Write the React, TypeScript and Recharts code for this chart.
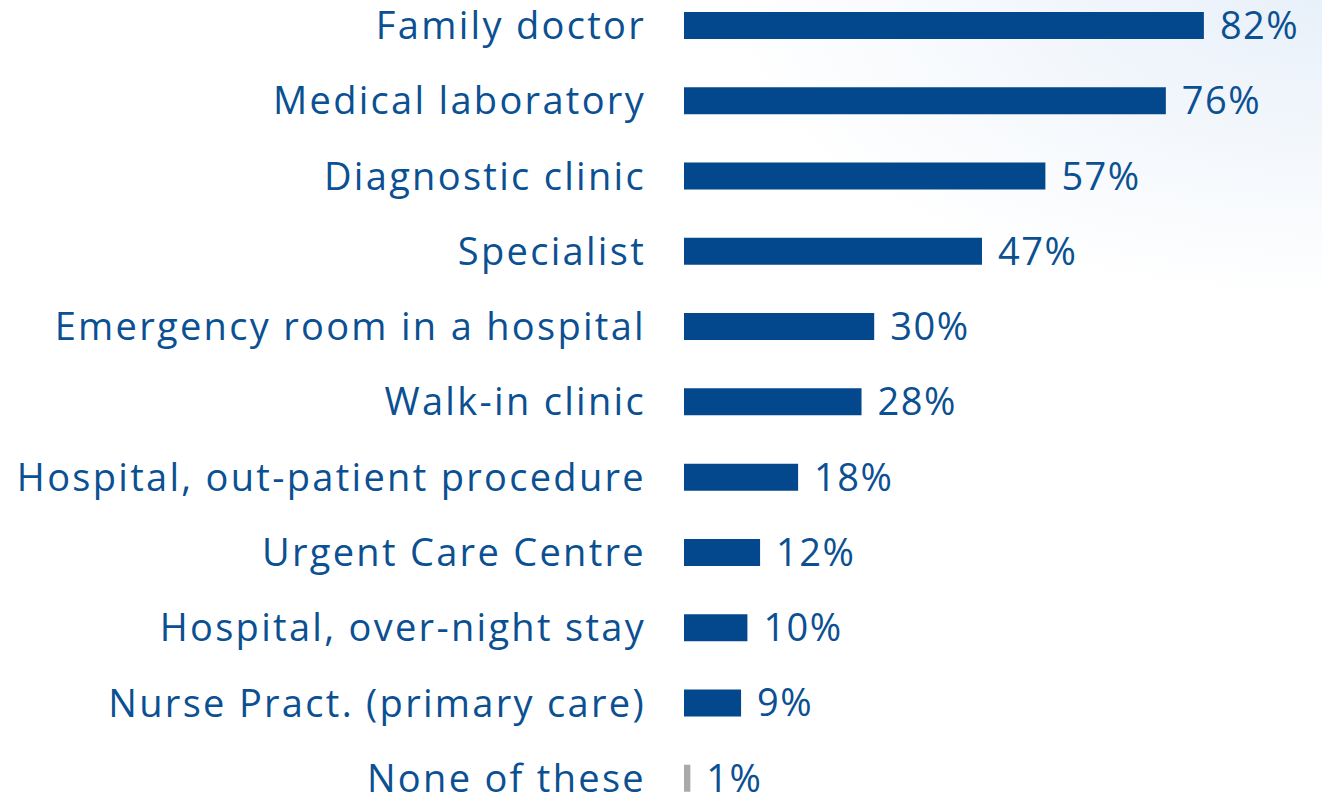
import React from "react";
import { Bar, BarChart, Cell, LabelList, XAxis, YAxis } from "recharts";

const categories = [
  "Family doctor",
  "Medical laboratory",
  "Diagnostic clinic",
  "Specialist",
  "Emergency room in a hospital",
  "Walk-in clinic",
  "Hospital, out-patient procedure",
  "Urgent Care Centre",
  "Hospital, over-night stay",
  "Nurse Pract. (primary care)",
  "None of these",
];
const shares = [82, 76, 57, 47, 30, 28, 18, 12, 10, 9, 1];
const barColors = ["#03488c", "#03488c", "#03488c", "#03488c", "#03488c", "#03488c", "#03488c", "#03488c", "#03488c", "#03488c", "#a9a9a9"];

const chartData = categories.map((name, i) => ({ name, value: shares[i], color: barColors[i] }));

const textColor = "#0b5092";
const font = "'Open Sans', 'Noto Sans', sans-serif";

export default function App() {
  return (
    <div
      style={{
        position: "absolute",
        left: 0,
        top: 0,
        width: 1322,
        height: 795,
        overflow: "hidden",
        background: "radial-gradient(ellipse 600px 300px at 1322px 0px, #e8f0f9 0%, #ffffff 100%)",
      }}
    >
      <div style={{ position: "absolute", left: 0, top: -12 }}>
        <BarChart
          width={1322}
          height={828}
          data={chartData}
          layout="vertical"
          margin={{ top: 0, right: 4, bottom: 0, left: 0 }}
          barCategoryGap={0}
        >
          <XAxis type="number" domain={[0, 100]} hide />
          <YAxis
            type="category"
            dataKey="name"
            width={684}
            axisLine={false}
            tickLine={false}
            tickMargin={32}
            interval={0}
            tick={{ fill: textColor, fontSize: 38, fontFamily: font, letterSpacing: 2.3 }}
          />
          <Bar dataKey="value" barSize={27} isAnimationActive={false}>
            {chartData.map((d) => (
              <Cell key={d.name} fill={d.color} />
            ))}
            <LabelList
              dataKey="value"
              position="right"
              offset={16}
              formatter={(v: any) => `${v}%`}
              style={{ fill: textColor, fontSize: 38, fontFamily: font, letterSpacing: 1.5 }}
            />
          </Bar>
        </BarChart>
      </div>
    </div>
  );
}
